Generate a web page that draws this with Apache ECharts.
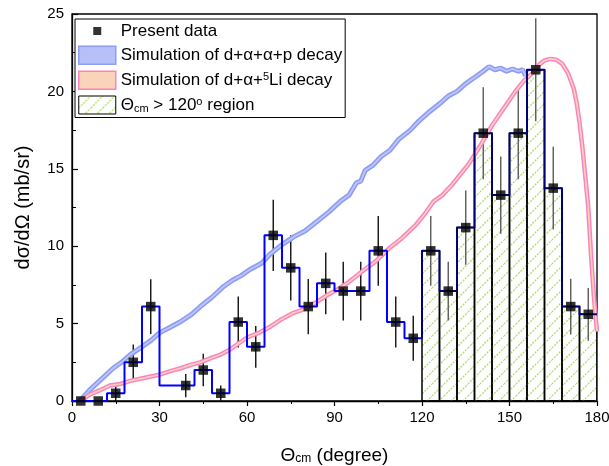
<!DOCTYPE html>
<html>
<head>
<meta charset="utf-8">
<script src="https://cdn.jsdelivr.net/npm/echarts@6/dist/echarts.min.js"></script>
<style>
  html, body { margin: 0; padding: 0; background: #fff; }
  #chart { width: 609px; height: 466px; }
</style>
</head>
<body>
<div id="chart"></div>
<script>
// Angular bins (centre of mass angle, degrees)
const binCenters = [3, 9, 15, 21, 27, 33, 39, 45, 51, 57, 63, 69, 75, 81, 87, 93, 99, 105, 111, 117,
                    123, 129, 135, 141, 147, 153, 159, 165, 171, 177];
const binWidth = 6;
// Histogram heights (mb/sr)
const binValues = [0, 0, 0.5, 2.5, 6.1, 1.0, 1.0, 2.0, 0.5, 5.1, 3.5, 10.7, 8.6, 6.1, 7.6, 7.1, 7.1, 9.7, 5.1, 4.05,
                   9.7, 7.1, 11.2, 17.3, 13.3, 17.3, 21.4, 13.75, 6.1, 5.6];
// Measured points (null: no point in that bin) and their uncertainties
const pointValues = [0, 0, 0.5, 2.5, 6.1, null, 1.0, 2.0, 0.5, 5.1, 3.5, 10.7, 8.6, 6.1, 7.6, 7.1, 7.1, 9.7, 5.1, 4.05,
                     9.7, 7.1, 11.2, 17.3, 13.3, 17.3, 21.4, 13.75, 6.1, 5.6];
const pointErrors = [0, 0, 0.5, 1.15, 1.77, 0, 0.75, 1.05, 0.5, 1.65, 1.35, 2.3, 2.1, 1.78, 2.0, 1.9, 1.9, 2.25, 1.65, 1.45,
                     2.25, 1.9, 2.4, 2.97, 2.5, 2.97, 3.33, 2.67, 1.8, 1.7];
// Simulated d+α+α+p decay
const simFourBody = [[2.7,0],[6,0.7],[10,1.4],[14,2.1],[17,2.5],[20,3.0],[24,3.5],[27,3.9],[30,4.4],[34,4.8],
  [37,5.1],[41,5.6],[44,6.1],[48,6.7],[52,7.4],[55,7.8],[58,8.1],[61,8.5],[65,8.9],[68,9.5],[72,10.1],[76,10.6],
  [80,11.0],[84,11.6],[88,12.2],[92,12.9],[95,13.3],[97.5,14.1],[99,14.2],[100.5,14.9],[103,15.2],[106,15.8],
  [109,16.2],[112,16.9],[116,17.5],[119,18.1],[122,18.6],[126,19.2],[129,19.7],[132,20.0],[135,20.5],[138,20.9],
  [141,21.3],[143,21.6],[145,21.4],[147,21.5],[149,21.3],[151,21.45],[153,21.3],[154.5,21.4],[155.5,21.0]];
// Simulated d+α+5Li decay
const simLi5 = [[2.7,0],[6,0.4],[9.6,0.7],[13,1.0],[16.5,1.1],[20,1.3],[25,1.5],[30,1.7],[34,1.95],[37,2.1],
  [41,2.35],[44,2.5],[48,2.8],[51,3.0],[54,3.3],[57,3.7],[60,4.1],[64,4.4],[68,4.8],[72,5.3],[76,5.7],[80,5.95],
  [84,6.4],[88,6.9],[91,7.2],[95,7.7],[100,8.45],[104,9.0],[109,9.9],[113,10.5],[118,11.4],[121,12.1],[124,12.9],
  [127,13.3],[130,13.9],[133,14.6],[136,15.3],[140,16.5],[144,17.8],[148,18.9],[152,20.0],[155,20.7],[158,21.2],
  [160,21.7],[162,22.0],[164,22.1],[166,22.05],[168,21.8],[170,21.2],[172,20.2],[173,19.3],[174,18.0],[175,16.4],
  [176,14.5],[177,12.5],[178,9.3],[179,6.6],[180,4.5]];
const regionStart = 120;
const xRange = { min: 0, max: 180, interval: 30 };
const yRange = { min: 0, max: 25, interval: 5 };

const FONT = '"Liberation Sans", Arial, sans-serif';

// diagonal green hatch used for the Θcm > 120° bins
const hatch = document.createElement('canvas');
hatch.width = 12; hatch.height = 12;
(function () {
  const g = hatch.getContext('2d');
  g.strokeStyle = '#b3de72';
  g.lineWidth = 1.3;
  g.setLineDash([2, 1.2]);
  g.beginPath();
  g.moveTo(0, 12); g.lineTo(12, 0);
  g.moveTo(-6, 6); g.lineTo(6, -6);
  g.moveTo(6, 18); g.lineTo(18, 6);
  g.stroke();
})();
const hatchFill = { image: hatch, repeat: 'repeat' };

// step outline of the histogram, split at the region boundary
const stepLow = [], stepHigh = [];
binCenters.forEach((c, i) => {
  const lo = c - binWidth / 2, hi = c + binWidth / 2;
  if (c < regionStart) {
    stepLow.push([lo, binValues[i]], [hi, binValues[i]]);
  } else {
    if (stepHigh.length === 0) stepHigh.push([lo, binValues[i - 1]]);
    stepHigh.push([lo, binValues[i]], [hi, binValues[i]]);
  }
});
const regionBins = binCenters
  .map((c, i) => [c - binWidth / 2, c + binWidth / 2, binValues[i]])
  .filter(d => d[0] >= regionStart);
const points = binCenters.map((c, i) => [c, pointValues[i]]).filter(d => d[1] !== null);
const errBars = binCenters.map((c, i) => [c, pointValues[i], pointErrors[i]])
  .filter(d => d[1] !== null && d[2] > 0);

const chart = echarts.init(document.getElementById('chart'), null, { renderer: 'canvas' });

const legendLabels = {
  'Present data': 'Present data',
  'Simulation of d+α+α+p decay': 'Simulation of d+α+α+p decay',
  'Simulation of d+α+5Li decay': 'Simulation of d+α+{sup|5}Li decay',
  'region': 'Θ{sub|cm} > 120{sup|o} region'
};

chart.setOption({
  animation: false,
  backgroundColor: '#fff',
  grid: { left: 72, right: 12, top: 14, bottom: 65, show: true, borderColor: '#000', borderWidth: 1.3,
          backgroundColor: 'transparent', containLabel: false, outerBoundsMode: 'none' },
  legend: {
    orient: 'vertical', left: 75, top: 19,
    itemWidth: 37, itemHeight: 18, itemGap: 5.5,
    padding: [3, 3, 3, 3],
    borderColor: '#000', borderWidth: 1,
    backgroundColor: '#fff',
    selectedMode: false,
    formatter: n => legendLabels[n],
    textStyle: {
      fontFamily: FONT, fontSize: 17, color: '#000', lineHeight: 18,
      rich: {
        sup: { fontFamily: FONT, fontSize: 11, verticalAlign: 'top', lineHeight: 10, color: '#000' },
        sub: { fontFamily: FONT, fontSize: 11, verticalAlign: 'bottom', lineHeight: 10, color: '#000' }
      }
    },
    data: [
      { name: 'Present data', icon: 'path://M0,0M18,18M5,5h8v8h-8z', itemStyle: { color: '#000' } },
      { name: 'Simulation of d+α+α+p decay', icon: 'rect',
        itemStyle: { color: '#b7c0f8', borderColor: '#8e9cf4', borderWidth: 1.5 } },
      { name: 'Simulation of d+α+5Li decay', icon: 'rect',
        itemStyle: { color: '#f9d4bb', borderColor: '#fd82bd', borderWidth: 1.5 } },
      { name: 'region', icon: 'rect',
        itemStyle: { color: hatchFill, borderColor: '#000', borderWidth: 1 } }
    ]
  },
  xAxis: {
    type: 'value', min: xRange.min, max: xRange.max, interval: xRange.interval,
    name: '{t|Θ}{s|cm} (degree)', nameLocation: 'middle', nameGap: 45,
    nameTextStyle: {
      fontFamily: FONT, fontSize: 19, color: '#000',
      rich: {
        t: { fontFamily: FONT, fontSize: 19, color: '#000' },
        s: { fontFamily: FONT, fontSize: 12, color: '#000', verticalAlign: 'bottom', lineHeight: 8 }
      }
    },
    axisLine: { onZero: false, lineStyle: { color: '#000', width: 1.3 } },
    axisTick: { inside: false, length: 5, lineStyle: { color: '#000', width: 1.2 } },
    minorTick: { show: true, splitNumber: 2, length: 3, lineStyle: { color: '#000', width: 1 } },
    axisLabel: { fontFamily: FONT, fontSize: 15, color: '#000', margin: 9 },
    splitLine: { show: false }
  },
  yAxis: {
    type: 'value', min: yRange.min, max: yRange.max, interval: yRange.interval,
    name: 'dσ/dΩ (mb/sr)', nameLocation: 'middle', nameGap: 39,
    nameTextStyle: { fontFamily: FONT, fontSize: 20, color: '#000' },
    axisLine: { show: true, onZero: false, lineStyle: { color: '#000', width: 1.3 } },
    axisTick: { show: true, inside: true, length: 6, lineStyle: { color: '#000', width: 1.2 } },
    minorTick: { show: true, splitNumber: 2, length: 4, lineStyle: { color: '#000', width: 1 } },
    axisLabel: { fontFamily: FONT, fontSize: 15, color: '#000', margin: 8 },
    splitLine: { show: false }
  },
  series: [
    {
      name: 'region', type: 'custom', z: 1, clip: true,
      itemStyle: { color: '#b3de72' },
      data: regionBins,
      renderItem: (p, api) => {
        const a = api.coord([api.value(0), api.value(2)]);
        const b = api.coord([api.value(1), 0]);
        return {
          type: 'rect',
          shape: { x: a[0], y: a[1], width: b[0] - a[0], height: b[1] - a[1] },
          style: { fill: hatchFill, stroke: '#000', lineWidth: 1.5 }
        };
      }
    },
    {
      name: 'errors', type: 'custom', z: 2,
      data: errBars,
      renderItem: (p, api) => {
        const x = api.value(0), v = api.value(1), e = api.value(2);
        const a = api.coord([x, v + e]);
        const b = api.coord([x, Math.max(0, v - e)]);
        return {
          type: 'line',
          shape: { x1: a[0], y1: a[1], x2: b[0], y2: b[1] },
          style: { stroke: x > regionStart ? '#5a5a5a' : '#111', lineWidth: 1.4 }
        };
      }
    },
    {
      name: 'Simulation of d+α+α+p decay', type: 'line', z: 3, data: simFourBody,
      showSymbol: false, symbol: 'none', color: '#8e9cf4',
      lineStyle: { color: '#8e9cf4', width: 5 }
    },
    {
      name: 'simA-core', type: 'line', z: 3, data: simFourBody,
      showSymbol: false, symbol: 'none',
      lineStyle: { color: '#bcc5fa', width: 1.8 }
    },
    {
      name: 'Simulation of d+α+5Li decay', type: 'line', z: 3, data: simLi5,
      showSymbol: false, symbol: 'none', color: '#fd82bd',
      lineStyle: { color: '#fd82bd', width: 4.5 }
    },
    {
      name: 'simB-core', type: 'line', z: 3, data: simLi5,
      showSymbol: false, symbol: 'none',
      lineStyle: { color: '#f9d4bb', width: 1.6 }
    },
    {
      name: 'stepLow', type: 'line', z: 4, data: stepLow,
      showSymbol: false, symbol: 'none',
      lineStyle: { color: '#0000ff', width: 2 }
    },
    {
      name: 'stepHigh', type: 'line', z: 4, data: stepHigh,
      showSymbol: false, symbol: 'none',
      lineStyle: { color: '#00007a', width: 2 }
    },
    {
      name: 'Present data', type: 'scatter', z: 5, data: points,
      symbol: 'rect', symbolSize: 9.5,
      itemStyle: { color: '#000' }
    }
  ]
});
</script>
</body>
</html>
